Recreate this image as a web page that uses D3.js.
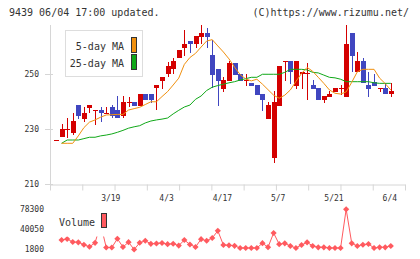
<!DOCTYPE html>
<html>
<head>
<meta charset="utf-8">
<script src="https://cdn.jsdelivr.net/npm/d3@7"></script>
<style>
body{margin:0;background:#fff;}
svg{display:block;font-family:"DejaVu Sans Mono",monospace;}
</style>
</head>
<body>
<div id="container"></div>
<script>
let w = 420;
let h = 259;

// daily candles (index 0..60)
let opens  = [226,227.0,229.9,228.7,238.7,233.5,237.7,236.9,236.9,235.7,237.9,236.9,234.8,240,240,238.4,242.7,242.7,244.8,247.6,
              249.9,251.7,255.7,259.6,262,260.8,263.6,264.8,256.9,251.8,244.5,247.5,253.9,250,247.8,246.6,246,242.7,233.6,219.6,
              238.4,254.6,254.7,245.7,249.9,250.2,246,244.9,240.5,241.6,243.6,244.8,241.8,264.8,250.6,254.7,246,247,244.8,244.8,242.6];
let highs  = [226,231.8,234.1,235.7,238.7,237.9,238.7,236.9,238.1,237.9,238.7,242,242,241.8,240,242.7,242.7,242.7,246,248.8,
              254.5,255.7,258.7,266,262,263.8,267.8,266.6,262.4,251.8,248.8,254.7,253.9,250,249.9,246.6,246,242.7,240,243.8,
              252.9,254.6,254.7,254.7,250.8,254.1,247.8,244.9,242,243.8,244.9,246,267.8,264.8,257.9,255.7,250.7,250,244.8,246.6,246.6];
let lows   = [226,227.0,226.6,227.8,233.6,232.7,235.7,231.5,232.7,235.7,233.9,233.9,233.9,237.9,238.4,238.4,240.5,239.6,236.9,244.5,
              248.8,249.9,255.7,256.5,257.8,259.6,260.8,259.6,244.8,238.4,243.6,247.5,249.6,247.5,245.7,245.7,242.4,236.7,233.6,217.7,
              238.4,247.5,246.4,244.5,244.5,240.5,244.5,240.5,239.6,241.6,243.6,242.4,241.8,250.6,250.6,246.6,241.8,245.7,243.6,242.6,241.8];
let closes = [226,229.9,229.9,232.9,234.8,235.8,238.7,236.9,235.7,235.7,234.8,233.9,240,240,238.4,242.7,240.5,240.5,246,248.8,
              252.9,254.7,258.7,260.9,260.8,263.8,264.8,263.6,249.6,247.5,247.8,253.9,249.6,247.5,247.8,245.7,242.4,240.5,238.7,240,
              252.9,254.6,250.6,254.7,250.8,250.2,244.5,240.5,242,242.7,244.9,244.8,260.9,256.7,254.7,246.6,244.5,245.7,244.8,242.6,243.8];

// moving averages as drawn (no value at index 0)
let ma5  = [null,224.8,224.8,224.8,227.5,230.5,232.5,233.3,234.3,235.1,235.2,235.3,235.3,236.9,237.4,237.9,238.9,239.9,239.9,241.8,
            243.6,246,248.5,253.5,256,257.5,259.8,262,262.5,260.2,258,255.5,252.5,249.8,248.2,247.5,248.1,246.3,244.3,242.3,
            241.2,242.3,244.2,247.3,250.2,252.4,251,248.8,246.6,244.2,243,242.7,243.5,247,250.8,251.7,251.7,251.7,248.5,246.5,244.2];
let ma25 = [null,224.8,226,226,226,226.5,227,227,227.5,227.8,228.2,228.8,229.5,230.3,230.8,231.2,232.2,232.9,233.3,233.6,
            234,235.5,236.8,238,238.7,240.8,242,244,245.2,245.8,246.3,246.8,247.2,247.8,248.3,248.8,248.8,249.9,249.9,249.9,
            249.9,250.6,251.7,251.7,251.7,251.5,250.6,250.4,249.6,248.8,248.6,248.1,247.2,247.2,247.2,247.2,247.2,246.8,246.6,246.6,246.6];

// volume, starts at candle 1
let volumes = [19900,21800,16100,15500,10900,7000,14500,50300,5600,5600,22200,6600,15700,1800,14700,18500,12600,13200,14200,11900,
               12800,9200,19900,11300,6600,21400,18400,23700,37400,10400,9800,8800,4700,4700,4700,4700,13800,6200,33200,11900,
               13600,8500,4700,10400,15500,8500,6000,6000,4700,4700,4700,78300,13600,8500,10900,12300,4700,6000,6000,8500];

let dateLabels = ["3/19","4/3","4/17","5/7","5/21","6/4"];
let labelIdx = [10,20,30,40,50,60];
let priceTicks = [210,230,250];
let volTicks = [1800,40050,78300];

let upColor = "#d40000", downColor = "#4046c0";
let ma5Color = "#f0900f", ma25Color = "#10a818";
let volColor = "#ff5a5f";
let axisColor = "#d6d6d6", textColor = "#333";

let svg = d3.select("div#container").append("svg")
    .attr("width", w).attr("height", h)
    .style("background-color", "#fff");

/*
 scales
 */
let x = d3.scaleLinear().domain([0, 60]).range([56, 390.8]);
let y = d3.scaleLinear().domain([210, 270]).range([184, 19]);
let yVol = d3.scaleLinear().domain([1800, 78300]).range([249.5, 209.3]);
let grid = d3.scaleLinear().domain([0, 11]).range([50, 405]);

// header texts
svg.append("text").attr("x", 9).attr("y", 16)
    .attr("font-size", 10).attr("fill", textColor)
    .text("9439 06/04 17:00 updated.");
svg.append("text").attr("x", 409).attr("y", 16)
    .attr("font-size", 10).attr("fill", textColor).attr("text-anchor", "end")
    .text("(C)https://www.rizumu.net/");

// axes
svg.append("line")
    .attr("x1", 50.5).attr("x2", 50.5).attr("y1", 25).attr("y2", 190)
    .attr("stroke", axisColor);

let xAxis = svg.append("g")
    .attr("transform", "translate(0,184.5)")
    .call(d3.axisBottom(grid).tickValues(d3.range(12)).tickSize(6).tickSizeOuter(0).tickFormat(""));
xAxis.select(".domain").attr("stroke", axisColor);
xAxis.selectAll(".tick line").attr("stroke", axisColor);

let yAxis = svg.append("g")
    .attr("transform", "translate(53,0)")
    .call(d3.axisLeft(y).tickValues(priceTicks).tickSize(8).tickPadding(6));
yAxis.select(".domain").remove();
yAxis.selectAll(".tick line").attr("stroke", axisColor);
yAxis.selectAll(".tick text").attr("fill", textColor)
    .attr("font-family", "DejaVu Sans Mono").attr("font-size", 8);

svg.selectAll("text.date")
    .data(dateLabels)
    .enter().append("text")
    .attr("class", "date")
    .attr("x", (d, i) => x(labelIdx[i]) - 1)
    .attr("y", 201)
    .attr("text-anchor", "middle")
    .attr("font-size", 8).attr("fill", textColor)
    .text(d => d);

// candles
let candles = d3.range(opens.length).map(i => ({
    i: i, o: opens[i], h: highs[i], l: lows[i], c: closes[i]
}));

let cg = svg.append("g").attr("shape-rendering", "crispEdges");
cg.selectAll("line.wick")
    .data(candles)
    .enter().append("line")
    .attr("class", "wick")
    .attr("x1", d => Math.round(x(d.i)) + 0.5)
    .attr("x2", d => Math.round(x(d.i)) + 0.5)
    .attr("y1", d => y(d.h))
    .attr("y2", d => y(d.l))
    .attr("stroke", d => d.c >= d.o ? upColor : downColor);
cg.selectAll("rect.body")
    .data(candles)
    .enter().append("rect")
    .attr("class", "body")
    .attr("x", d => Math.round(x(d.i)) - 2)
    .attr("width", 5)
    .attr("y", d => y(Math.max(d.o, d.c)))
    .attr("height", d => Math.max(1, Math.abs(y(d.o) - y(d.c))))
    .attr("fill", d => d.c >= d.o ? upColor : downColor);

// moving averages
let maLine = d3.line()
    .defined(d => d != null)
    .x((d, i) => x(i))
    .y(d => y(d));
svg.append("path").datum(ma25)
    .attr("d", maLine).attr("fill", "none")
    .attr("stroke", ma25Color).attr("stroke-width", 1);
svg.append("path").datum(ma5)
    .attr("d", maLine).attr("fill", "none")
    .attr("stroke", ma5Color).attr("stroke-width", 1);

// MA legend
let lg = svg.append("g");
lg.append("rect").attr("x", 65.5).attr("y", 30.5).attr("width", 77).attr("height", 46)
    .attr("fill", "#fff").attr("stroke", "#ddd");
lg.append("text").attr("x", 124).attr("y", 50).attr("text-anchor", "end")
    .attr("font-size", 10).attr("fill", textColor).text("5-day MA");
lg.append("text").attr("x", 124).attr("y", 67).attr("text-anchor", "end")
    .attr("font-size", 10).attr("fill", textColor).text("25-day MA");
lg.append("rect").attr("x", 131.5).attr("y", 37.5).attr("width", 5).attr("height", 15)
    .attr("fill", ma5Color).attr("stroke", "#333");
lg.append("rect").attr("x", 131.5).attr("y", 54.5).attr("width", 5).attr("height", 15)
    .attr("fill", ma25Color).attr("stroke", "#333");

// volume
let volLine = d3.line()
    .x((d, k) => x(k + 1))
    .y(d => yVol(d));
svg.append("path").datum(volumes)
    .attr("d", volLine).attr("fill", "none")
    .attr("stroke", volColor).attr("stroke-width", 1);
svg.selectAll("path.vdot")
    .data(volumes)
    .enter().append("path")
    .attr("class", "vdot")
    .attr("d", d3.symbol(d3.symbolSquare, 19))
    .attr("transform", (d, k) => "translate(" + x(k + 1) + "," + yVol(d) + ") rotate(45)")
    .attr("fill", volColor);

svg.selectAll("text.vtick")
    .data(volTicks)
    .enter().append("text")
    .attr("class", "vtick")
    .attr("x", 44)
    .attr("y", d => yVol(d))
    .attr("dy", "0.35em")
    .attr("text-anchor", "end")
    .attr("font-size", 8).attr("fill", textColor)
    .text(d => d);

// volume legend covers the line behind it
let vg = svg.append("g");
vg.append("rect").attr("x", 55).attr("y", 206).attr("width", 58).attr("height", 30.5)
    .attr("fill", "#fff");
vg.append("text").attr("x", 59).attr("y", 226)
    .attr("font-size", 10).attr("fill", textColor).text("Volume");
vg.append("rect").attr("x", 101.5).attr("y", 213.5).attr("width", 5).attr("height", 14)
    .attr("fill", volColor).attr("stroke", "#333");
</script>
</body>
</html>
